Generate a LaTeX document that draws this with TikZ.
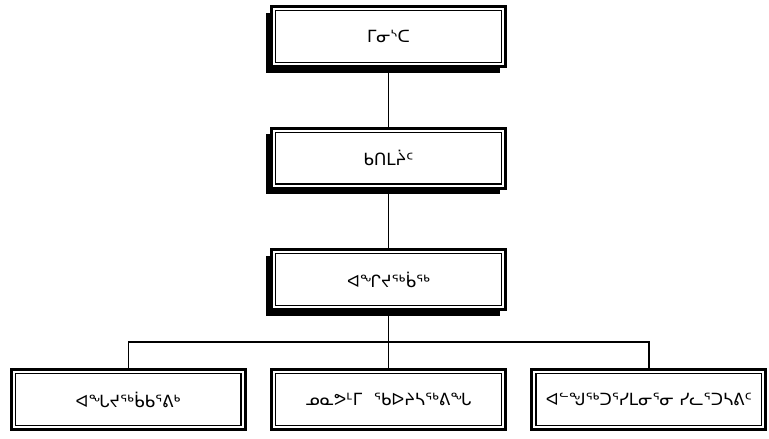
\documentclass[tikz,border=0pt]{standalone}
\usepackage{fontspec}
\newfontfamily\sylfont{DejaVu Sans}
\usetikzlibrary{positioning,shadows}

\begin{document}
\begin{tikzpicture}[
    x=0.75pt, y=-0.75pt,
    node distance=44pt,
    post/.style={rectangle, draw=black, fill=white, line width=2.2pt, minimum width=175.5pt, minimum height=45pt, text centered, font=\sylfont\fontsize{12.6}{14}\selectfont},
    shadowpost/.style={post, drop shadow={shadow xshift=-3.8pt, shadow yshift=-4.5pt, fill=black, opacity=1}},
    link/.style={draw=black, line width=0.9pt}
]
    \useasboundingbox (0,0) rectangle (769,439);

    % Chain of command
    \node[shadowpost] (minister) at (388.5,36.5) {ᒥᓂᔅᑕ};
    \node[shadowpost, below=of minister] (board) {ᑲᑎᒪᔩᑦ};
    \node[shadowpost, below=of board] (deputy) {ᐊᖏᔪᖅᑳᖅ};

    % Divisions
    \node[post, below=42.75pt of deputy] (research) {ᓄᓇᕗᒻᒥ\hspace{0.7em}ᖃᐅᔨᓴᖅᕕᖓ};
    \node[post, left=17.6pt of research] (assist) {ᐊᖓᔪᖅᑳᑲᕐᕕᒃ};
    \node[post, right=17.6pt of research] (college) {ᐊᓪᖑᖅᑐᕐᓯᒪᓂᕐᓂ ᓯᓚᕐᑐᓴᕕᑦ};

    % Inner frames
    \foreach \b in {minister,board,deputy,assist,research,college}
        \draw[line width=0.9pt] ([shift={(5.5,5.5)}]\b.north west) rectangle ([shift={(-5.5,-5.5)}]\b.south east);

    % Connectors
    \coordinate (bus) at (388.5,342);
    \draw[link] (minister) -- (board);
    \draw[link] (board) -- (deputy);
    \draw[link] (deputy) -- (bus);
    \draw[link] (assist.north) |- (bus) -| (college.north);
    \draw[link] (bus) -- (research.north);
\end{tikzpicture}
\end{document}
